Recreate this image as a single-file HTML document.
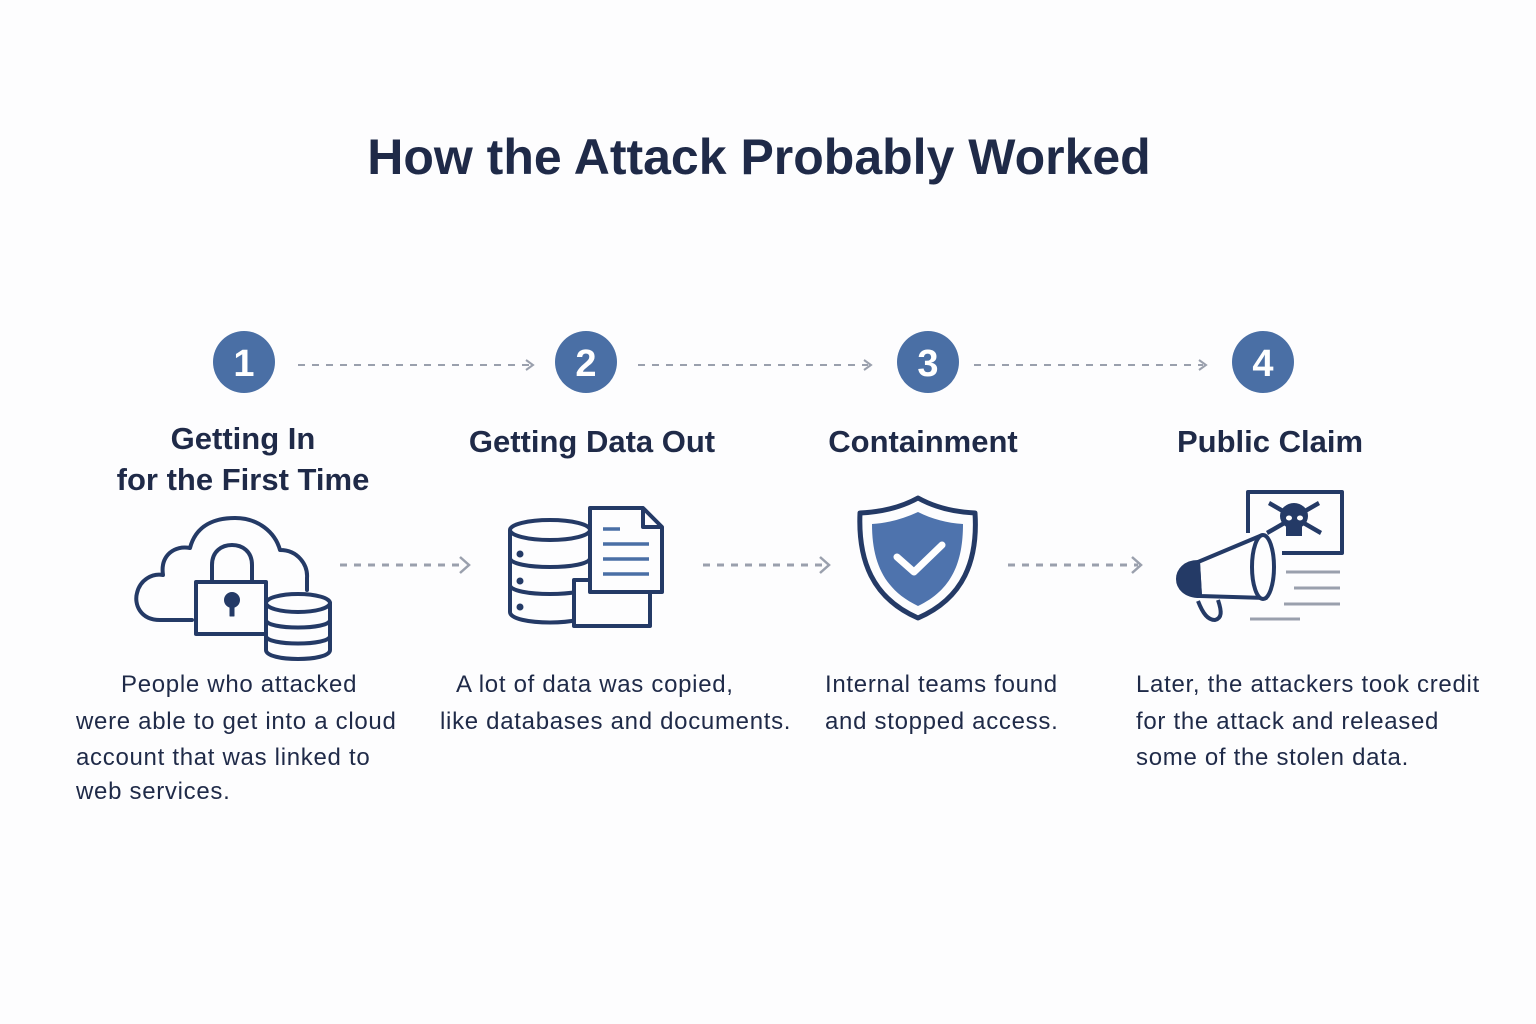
<!DOCTYPE html>
<html><head><meta charset="utf-8"><style>
html,body{margin:0;padding:0;background:#fdfdfe;}
svg{display:block;}
.t{font-family:"Liberation Sans",sans-serif;fill:#1f2a48;}
</style></head><body>
<svg width="1536" height="1024" viewBox="0 0 1536 1024" xmlns="http://www.w3.org/2000/svg">
<rect width="1536" height="1024" fill="#fdfdfe"/>
<text class="t" x="759" y="174" font-size="50" font-weight="bold" text-anchor="middle">How the Attack Probably Worked</text>

<g fill="#4a6fa5">
<circle cx="244" cy="362" r="31"/><circle cx="586" cy="362" r="31"/><circle cx="928" cy="362" r="31"/><circle cx="1263" cy="362" r="31"/>
</g>
<g font-family="Liberation Sans,sans-serif" font-size="38" font-weight="bold" fill="#fff" text-anchor="middle">
<text x="244" y="376">1</text><text x="586" y="376">2</text><text x="928" y="376">3</text><text x="1263" y="376">4</text>
</g>

<g stroke="#9aa0ad" stroke-width="2" fill="none" stroke-dasharray="7 7">
<line x1="298" y1="365" x2="530" y2="365"/><line x1="638" y1="365" x2="868" y2="365"/><line x1="974" y1="365" x2="1203" y2="365"/>
<line x1="340" y1="565" x2="466" y2="565" stroke-width="3"/><line x1="703" y1="565" x2="826" y2="565" stroke-width="3"/><line x1="1008" y1="565" x2="1138" y2="565" stroke-width="3"/>
</g>
<g stroke="#9aa0ad" stroke-width="2" fill="none">
<polyline points="526,360 533,365 526,370"/><polyline points="864,360 871,365 864,370"/><polyline points="1199,360 1206,365 1199,370"/>
<polyline points="460,557 469,565 460,573" stroke-width="2.5"/><polyline points="820,557 829,565 820,573" stroke-width="2.5"/><polyline points="1132,557 1141,565 1132,573" stroke-width="2.5"/>
</g>

<g class="t" font-size="31" font-weight="bold" text-anchor="middle">
<text x="243" y="449">Getting In</text>
<text x="243" y="490">for the First Time</text>
<text x="592" y="452">Getting Data Out</text>
<text x="923" y="452">Containment</text>
<text x="1270" y="452">Public Claim</text>
</g>

<g class="t" font-size="24" letter-spacing="0.7" fill="#252e4a">
<text x="121" y="692">People who attacked</text>
<text x="76" y="729">were able to get into a cloud</text>
<text x="76" y="765">account that was linked to</text>
<text x="76" y="799">web services.</text>
<text x="456" y="692">A lot of data was copied,</text>
<text x="440" y="729">like databases and documents.</text>
<text x="825" y="692">Internal teams found</text>
<text x="825" y="729">and stopped access.</text>
<text x="1136" y="692">Later, the attackers took credit</text>
<text x="1136" y="729">for the attack and released</text>
<text x="1136" y="765">some of the stolen data.</text>
</g>

<!-- icon 1: cloud lock db -->
<g stroke="#243a66" stroke-width="4" fill="none" stroke-linejoin="round" stroke-linecap="round">
<path d="M192,620 H160 C140,620 134,604 137,593 C140,580 152,573 163,575 C160,555 175,545 190,548 C196,525 215,518 235,518 C258,518 275,532 280,550 C298,550 308,565 307,578 V590"/>
<rect x="196" y="582" width="70" height="52" fill="#fdfdfe"/>
<path d="M212,582 V565 C212,551 222,545 232,545 C242,545 252,551 252,565 V582"/>
<circle cx="232" cy="600" r="6" fill="#243a66"/><rect x="230" y="600" width="4" height="16" fill="#243a66" stroke-width="1"/>
<path d="M266,603 V650 C266,662 330,662 330,650 V603" fill="#fdfdfe"/>
<ellipse cx="298" cy="603" rx="32" ry="9" fill="#fdfdfe"/>
<path d="M266,620 C266,630 330,630 330,620 M266,636 C266,646 330,646 330,636"/>
</g>

<!-- icon 2: db + docs -->
<g stroke="#243a66" stroke-width="4" fill="none" stroke-linejoin="round">
<ellipse cx="550" cy="530" rx="40" ry="10"/>
<path d="M510,530 V612 C510,626 590,626 590,612 V530"/>
<path d="M510,558 C510,570 590,570 590,558 M510,585 C510,597 590,597 590,585"/>
<rect x="574" y="580" width="76" height="46" fill="#fdfdfe"/>
<path d="M590,508 H643 L662,527 V592 H590 Z" fill="#fdfdfe"/>
<path d="M643,508 V527 H662"/>
</g>
<g fill="#243a66"><circle cx="520" cy="554" r="3.5"/><circle cx="520" cy="581" r="3.5"/><circle cx="520" cy="607" r="3.5"/></g>
<g stroke="#4a6fa5" stroke-width="3.5">
<line x1="603" y1="529" x2="620" y2="529"/><line x1="603" y1="544" x2="649" y2="544"/><line x1="603" y1="559" x2="649" y2="559"/><line x1="603" y1="574" x2="649" y2="574"/>
</g>

<!-- icon 3: shield -->
<path d="M918,498 C900,508 880,512 860,513 C858,560 872,598 918,618 C964,598 978,560 975,513 C955,512 936,508 918,498 Z" fill="#fdfdfe" stroke="#243a66" stroke-width="5" stroke-linejoin="round"/>
<path d="M918,512 C903,519 888,523 872,524 C872,562 884,590 918,606 C952,590 963,562 963,524 C947,523 932,519 918,512 Z" fill="#4e73ad"/>
<polyline points="897,557 914,572 942,545" fill="none" stroke="#fff" stroke-width="7" stroke-linecap="round" stroke-linejoin="round"/>

<!-- icon 4: megaphone -->
<g stroke="#243a66" stroke-width="4" fill="none" stroke-linejoin="round">
<path d="M1248,533 V492 H1342 V553 H1282"/>
</g>
<g fill="#243a66">
<ellipse cx="1294" cy="516" rx="14" ry="13"/>
<rect x="1286" y="524" width="16" height="12"/>
<path d="M1268,505 L1320,535 L1322,531 L1270,501 Z"/>
<path d="M1268,535 L1320,505 L1318,501 L1266,531 Z"/>
</g>
<g fill="#fff"><ellipse cx="1289" cy="518" rx="3" ry="2.5"/><ellipse cx="1300" cy="518" rx="3" ry="2.5"/></g>
<g stroke="#9aa0ad" stroke-width="3">
<line x1="1286" y1="572" x2="1340" y2="572"/><line x1="1294" y1="588" x2="1340" y2="588"/><line x1="1284" y1="604" x2="1340" y2="604"/><line x1="1250" y1="619" x2="1300" y2="619"/>
</g>
<g stroke="#243a66" stroke-width="4" stroke-linejoin="round">
<path d="M1198,601 C1203,614 1208,620 1215,620 C1222,618 1222,612 1218,600" fill="#fdfdfe"/>
<path d="M1198,562 L1260,536 L1266,598 L1200,596 Z" fill="#fdfdfe"/>
<path d="M1198,562 C1172,562 1170,596 1200,596 Z" fill="#243a66"/>
<ellipse cx="1263" cy="567" rx="11" ry="32" fill="#fdfdfe"/>
</g>
</svg>
</body></html>
